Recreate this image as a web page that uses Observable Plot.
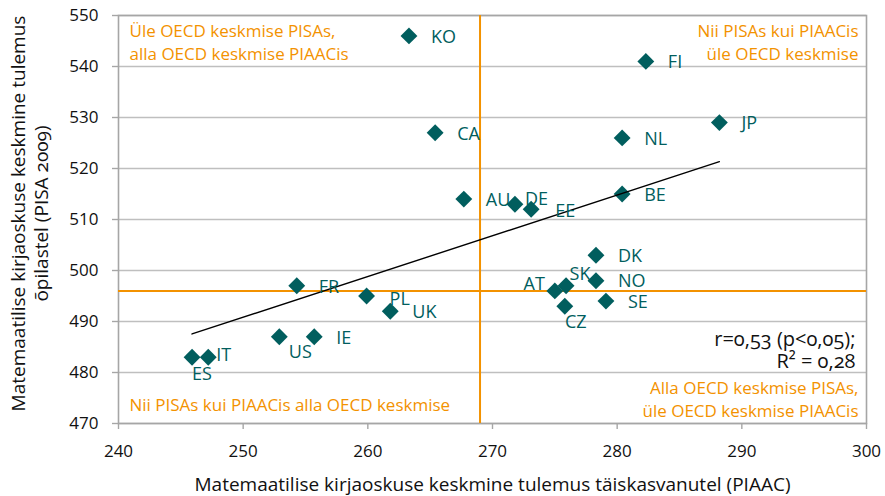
<!DOCTYPE html>
<html>
<head>
<meta charset="utf-8">
<script src="https://cdn.jsdelivr.net/npm/d3@7"></script>
<script src="https://cdn.jsdelivr.net/npm/@observablehq/plot@0.6"></script>
<style>
  html, body { margin: 0; padding: 0; background: #fff; }
  #chart svg { display: block; }
</style>
</head>
<body>
<div id="chart"></div>
<script>
// ---- Data ----
const countries = ["KO","FI","JP","NL","CA","BE","AU","DE","EE","DK","NO","SK","AT","SE","CZ","FR","PL","UK","US","IE","ES","IT"];
const piaacScores = [263.3,282.3,288.2,280.4,265.4,280.4,267.7,271.8,273.1,278.3,278.3,275.9,275.0,279.1,275.8,254.3,259.9,261.8,252.9,255.7,245.9,247.2];
const pisaScores  = [546,541,529,526,527,515,514,513,512,503,498,497,496,494,493,497,495,492,487,487,483,483];
const oecdPiaac = 269;
const oecdPisa = 496;
const xTicks = [240,250,260,270,280,290,300];
const yTicks = [470,480,490,500,510,520,530,540,550];
const xTitle = "Matemaatilise kirjaoskuse keskmine tulemus täiskasvanutel (PIAAC)";
const yTitle = "Matemaatilise kirjaoskuse keskmine tulemus\nõpilastel (PISA 2009)";
const quadTopLeft = "Üle OECD keskmise PISAs,\nalla OECD keskmise PIAACis";
const quadTopRight = "Nii PISAs kui PIAACis\nüle OECD keskmise";
const quadBottomLeft = "Nii PISAs kui PIAACis alla OECD keskmise";
const quadBottomRight = "Alla OECD keskmise PISAs,\nüle OECD keskmise PIAACis";
const statsText = "r=0,53 (p<0,05);\nR² = 0,28";

// ---- Label placement (styling, separate from data) ----
const defaultPlace = {dx: 22, dy: 1, anchor: "start"};
const placement = {
  AT: {dx: -10, dy: -7, anchor: "end"},
  SK: {dx: 14, dy: -12, anchor: "middle"},
  ES: {dx: 10, dy: 17, anchor: "middle"},
  CZ: {dx: 11, dy: 16, anchor: "middle"},
  US: {dx: 21, dy: 15, anchor: "middle"},
  IT: {dx: 8, dy: -2, anchor: "start"},
  DE: {dx: 10, dy: -5, anchor: "start"},
  EE: {dx: 24, dy: 2, anchor: "start"},
  PL: {dx: 23, dy: 3, anchor: "start"}
};

const data = countries.map((c, i) => ({c, x: piaacScores[i], y: pisaScores[i]}));

const teal = "#015E5E";
const orange = "#F39200";
const font = "'Open Sans', 'DejaVu Sans', sans-serif";

const labelMarks = data.map(d => {
  const p = placement[d.c] || defaultPlace;
  return Plot.text([d], {x: "x", y: "y", text: "c", dx: p.dx, dy: p.dy, textAnchor: p.anchor,
    fill: teal, fontSize: 18});
});

const chart = Plot.plot({
  width: 885,
  height: 496,
  marginLeft: 118,
  marginRight: 19,
  marginTop: 15,
  marginBottom: 73,
  style: {fontFamily: font, fontSize: "17px", color: "#111", background: "#fff", fontVariantNumeric: "oldstyle-nums"},
  x: {domain: [240, 300]},
  y: {domain: [470, 550]},
  marks: [
    Plot.gridY(yTicks, {stroke: "#BFBFBF", strokeOpacity: 1, strokeWidth: 1.4}),
    Plot.frame({stroke: "#A6A6A6", strokeWidth: 1.6}),
    Plot.axisX(xTicks, {tickSize: 6, tickPadding: 15, stroke: "#A6A6A6", strokeWidth: 1.4, fill: "#111", fontSize: 17, label: null}),
    Plot.axisY(yTicks, {tickSize: 6, tickPadding: 14, stroke: "#A6A6A6", strokeWidth: 1.4, fill: "#111", fontSize: 17, label: null}),
    Plot.ruleX([oecdPiaac], {stroke: orange, strokeWidth: 2}),
    Plot.ruleY([oecdPisa], {stroke: orange, strokeWidth: 2}),
    Plot.dot(data, {x: "x", y: "y", symbol: "diamond2", r: 7.6, fill: teal, stroke: "none"}),
    Plot.linearRegressionY(data, {x: "x", y: "y", ci: 0, stroke: "#000", strokeWidth: 1.4}),
    ...labelMarks,
    Plot.text([quadTopLeft], {frameAnchor: "top-left", dx: 11, dy: 5, lineAnchor: "top", textAnchor: "start", fill: orange, fontSize: 17, lineHeight: 1.35}),
    Plot.text([quadTopRight], {frameAnchor: "top-right", dx: -8, dy: 5, lineAnchor: "top", textAnchor: "end", fill: orange, fontSize: 17, lineHeight: 1.35}),
    Plot.text([quadBottomLeft], {frameAnchor: "bottom-left", dx: 11, dy: -13, lineAnchor: "bottom", textAnchor: "start", fill: orange, fontSize: 17, lineHeight: 1.35}),
    Plot.text([quadBottomRight], {frameAnchor: "bottom-right", dx: -8, dy: -7, lineAnchor: "bottom", textAnchor: "end", fill: orange, fontSize: 17, lineHeight: 1.35}),
    Plot.text([statsText], {frameAnchor: "bottom-right", dx: -11, dy: -74, lineAnchor: "middle", textAnchor: "end", fill: "#111", fontSize: 20, lineHeight: 1.1}),
    Plot.text([xTitle], {frameAnchor: "bottom", dy: 67, textAnchor: "middle", fill: "#111", fontSize: 19}),
    Plot.text([yTitle], {frameAnchor: "left", dx: -89, dy: -6, rotate: -90, textAnchor: "middle", lineAnchor: "middle", fill: "#111", fontSize: 19, lineHeight: 1.2})
  ]
});

document.getElementById("chart").appendChild(chart);
</script>
</body>
</html>
